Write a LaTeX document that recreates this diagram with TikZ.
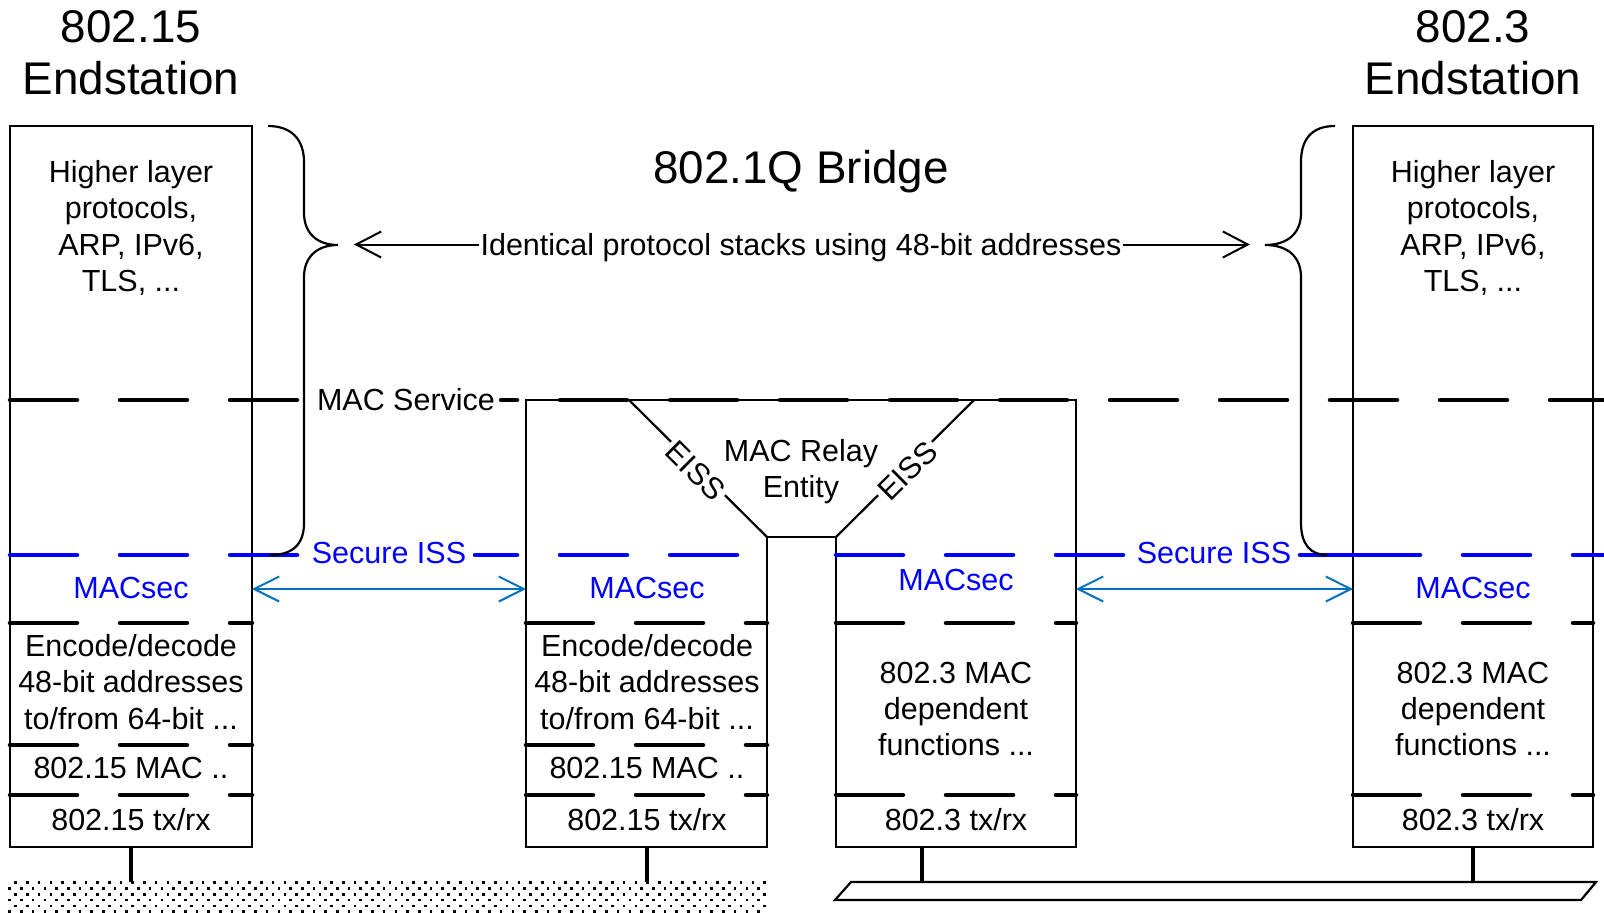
\documentclass[tikz,border=0pt]{standalone}
\usepackage{fontspec}
\setmainfont{Liberation Sans}
\usetikzlibrary{arrows.meta}
\definecolor{issblue}{RGB}{0,0,255}
\definecolor{linkblue}{RGB}{0,112,192}
\tikzset{
  frame/.style={line width=2.2pt},
  box/.style={draw, frame, inner sep=0pt},
  txt/.style={font=\fontsize{30.5}{36.3}\selectfont, align=center, inner sep=0pt},
  capline/.style={txt, text height=21.8pt, text depth=0pt},
  heading/.style={font=\fontsize{45.8}{52.7}\selectfont, align=center, inner sep=0pt},
  layer/.style={line width=4.5pt, line cap=round, dash pattern=on 67pt off 43pt},
  secure/.style={layer, draw=issblue},
  wire/.style={line width=3.5pt},
  brace/.style={line width=2.2pt},
  stackarrow/.style={line width=2pt, -{Straight Barb[length=25pt,width=26pt]}},
  linkarrow/.style={draw=linkblue, line width=2pt,
    {Straight Barb[length=25pt,width=25pt]}-{Straight Barb[length=25pt,width=25pt]}},
  eiss/.style={capline, fill=white, inner xsep=3pt, sloped, yshift=-3pt},
}
\begin{document}
\begin{tikzpicture}[x=1pt,y=-1pt]
\useasboundingbox (0,0) rectangle (1604,913);

% end station frames
\node[box, minimum width=242pt, minimum height=721pt] (esL) at (131,486.5) {};
\node[box, minimum width=240pt, minimum height=721pt] (esR) at (1473,486.5) {};

% bridge outline with the relay funnel
\coordinate (bTL) at (526,400);
\coordinate (bTR) at (1076,400);
\coordinate (fL) at (767,537);
\coordinate (fR) at (836,537);
\draw[frame] (526,847) -- (bTL) -- (bTR) -- (1076,847) -- (836,847) -- (fR)
  -- (fL) -- (767,847) -- cycle;
\draw[frame] (629,400) -- node[eiss] (eissL) {EISS} (fL);
\draw[frame] (fR) -- node[eiss] (eissR) {EISS} (974,400);

% MAC service boundary
\draw[layer] (10,400) -- (304,400);
\draw[layer, dash phase=51pt] (501,400) -- (1604,400);

% secure ISS boundary
\draw[secure] (10,555) -- (300,555);
\draw[secure, dash phase=25pt] (475,555) -- (767,555);
\draw[secure] (836,555) -- (1127,555);
\draw[secure, solid] (1300,555) -- (1353,555);
\draw[secure] (1353,555) -- (1604,555);

% layer boundaries inside the stacks
\foreach \y in {623,795} {
  \draw[layer] (10,\y) -- (252,\y);
  \draw[layer] (526,\y) -- (767,\y);
  \draw[layer] (836,\y) -- (1076,\y);
  \draw[layer] (1353,\y) -- (1593,\y);
}
\draw[layer] (10,745) -- (252,745);
\draw[layer] (526,745) -- (767,745);

% braces grouping the identical upper stacks
\draw[brace] (268,126) .. controls (292,126) and (304,140) .. (304,162)
  -- (304,213) .. controls (304,232) and (316,245) .. (338,245)
  .. controls (316,245) and (304,258) .. (304,277)
  -- (304,523) .. controls (304,545) and (292,555) .. (270,555);
\draw[brace] (1335,126) .. controls (1311,126) and (1301,140) .. (1301,162)
  -- (1301,213) .. controls (1301,232) and (1289,245) .. (1265,245)
  .. controls (1289,245) and (1301,258) .. (1301,277)
  -- (1301,523) .. controls (1301,545) and (1311,555) .. (1327,555);

% headings
\node[heading] (titleL) at (131,52.6) {802.15\\Endstation};
\node[heading] (titleR) at (1473,52.6) {802.3\\Endstation};
\node[heading, anchor=base] (bridge) at (801,183.5) {802.1Q Bridge};

% identical stacks arrow
\node[capline, inner xsep=1pt] (stacks) at (801,244.5)
  {Identical protocol stacks using 48-bit addresses};
\coordinate (tipL) at (354,244.5);
\coordinate (tipR) at (1250,244.5);
\draw[stackarrow] (stacks.west) -- (tipL);
\draw[stackarrow] (stacks.east) -- (tipR);

% stack contents
\node[txt] (hlL) at (131,228) {Higher layer\\protocols,\\ARP, IPv6,\\TLS, ...};
\node[txt] (hlR) at (1473,228) {Higher layer\\protocols,\\ARP, IPv6,\\TLS, ...};
\node[capline, fill=white, inner xsep=0pt] (macsvc) at (406,400) {MAC Service};
\node[capline, text=issblue] (sissL) at (389,553) {Secure ISS};
\node[capline, text=issblue] (sissR) at (1214,553) {Secure ISS};
\node[txt] (relay) at (801,471.4) {MAC Relay\\Entity};

\node[capline, text=issblue] (msL) at (131,588) {MACsec};
\node[capline, text=issblue] (msB1) at (647,588) {MACsec};
\node[capline, text=issblue] (msB2) at (956,580) {MACsec};
\node[capline, text=issblue] (msR) at (1473,588) {MACsec};

\node[txt] (encL) at (131,682) {Encode/decode\\48-bit addresses\\to/from 64-bit ...};
\node[txt] (encB) at (647,682) {Encode/decode\\48-bit addresses\\to/from 64-bit ...};
\node[capline] (macL) at (131,768) {802.15 MAC ..};
\node[capline] (macB) at (647,768) {802.15 MAC ..};
\node[txt] (depB) at (956,709) {802.3 MAC\\dependent\\functions ...};
\node[txt] (depR) at (1473,709) {802.3 MAC\\dependent\\functions ...};

\node[capline] (txL) at (131,820) {802.15 tx/rx};
\node[capline] (txB1) at (647,820) {802.15 tx/rx};
\node[capline] (txB2) at (956,820) {802.3 tx/rx};
\node[capline] (txR) at (1473,820) {802.3 tx/rx};

% MACsec links between peers
\coordinate (lkA) at (252,589);
\coordinate (lkB) at (526,589);
\coordinate (lkC) at (1076,589);
\coordinate (lkD) at (1353,589);
\draw[linkarrow] (lkA) -- (lkB);
\draw[linkarrow] (lkC) -- (lkD);

% attachment to the media
\coordinate (wA) at (131,882);
\coordinate (wB) at (647,882);
\coordinate (wC) at (922,882);
\coordinate (wD) at (1473,882);
\draw[wire] (131,847) -- (wA);
\draw[wire] (647,847) -- (wB);
\draw[wire] (922,847) -- (wC);
\draw[wire] (1473,847) -- (wD);

% wireless medium: staggered dot field
\foreach \r in {0,...,5} {
  \foreach \c in {0,...,64} {
    \fill ({9.7+6*(1-mod(\r,2))+11.7*\c-1.3}, {882.7+5.8*\r-1.3}) rectangle ++(2.6,2.6);
  }
}

% wired medium: bus bar
\draw[frame] (835,900) -- (851,882) -- (1596,882) -- (1581,900) -- cycle;
\end{tikzpicture}
\end{document}
